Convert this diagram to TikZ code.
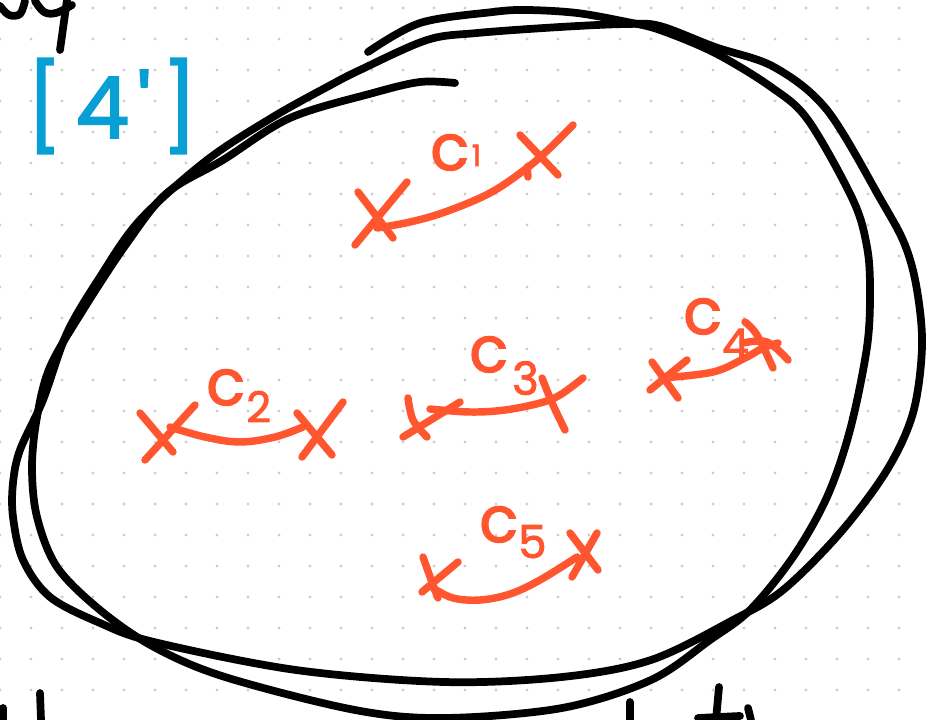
\documentclass[tikz,border=0pt]{standalone}
\usepackage{fontspec}
\newfontfamily\handfont[FakeBold=2]{Poppins}
\definecolor{orng}{RGB}{255,86,48}
\definecolor{blu}{RGB}{8,160,212}
\definecolor{dotc}{RGB}{205,205,205}
\tikzset{
  inkline/.style={line width=5.8pt, line cap=round, line join=round, black},
  orline/.style={line width=5.6pt, line cap=round, line join=round, orng},
  lab/.style={text=orng, inner sep=0pt, font=\handfont\fontsize{48}{48}\selectfont},
  bluelab/.style={text=blu, inner sep=0pt, font=\handfont\fontsize{64}{64}\selectfont},
}
\begin{document}
\begin{tikzpicture}[x=0.75pt,y=-0.75pt]
\useasboundingbox (0,0) rectangle (927,720);
\fill[white] (0,0) rectangle (927,720);
% dot grid
\foreach \i in {0,...,29}{
  \foreach \j in {0,...,22}{
    \fill[dotc] (31*\i,8+31*\j) circle (1.2pt);
  }
}
% partial handwriting at the edges
\draw[inkline] plot[smooth, tension=0.6] coordinates {(0,6) (9,15) (20,14) (25,1)};
\draw[inkline] plot[smooth, tension=0.6] coordinates {(35,1) (44,12) (56,13) (72,5)};
\draw[inkline] (67,0) -- (60,50);
\draw[inkline] (3,708) -- (3,720);
\draw[inkline] (40,693) -- (41,720);
\draw[inkline] (630,702) -- (630,720);
\draw[inkline] (719,687) -- (716,720);
\draw[inkline] (698,718) -- (740,716);
\draw[inkline] (748,708) -- (751,720);
% loop B (closed)
\draw[inkline] plot[smooth cycle, tension=0.55] coordinates {
 (360,70) (427,40) (477,33) (560,27) (627,24) (660,26) (715,47) (774,67)
 (827,110) (881,200) (905,245) (917,290) (922,347) (913,413) (887,470)
 (840,533) (783,590) (733,620) (651,660) (562,677) (444,682) (296,670)
 (154,642) (100,623) (50,597) (23,560) (13,517) (13,483) (20,450) (43,400)
 (67,333) (100,277) (140,220) (207,160) (273,117) (327,87)};
% loop A (open)
\draw[inkline] plot[smooth, tension=0.55] coordinates {
 (368,52) (420,23) (493,12) (527,10) (577,13) (627,22) (660,30) (715,53)
 (771,87) (808,120) (853,200) (867,247) (870,290) (867,347) (850,430)
 (827,497) (793,557) (750,610) (710,640) (651,680) (562,708) (444,718)
 (355,710) (225,677) (154,647) (100,610) (57,567) (37,517) (32,467)
 (37,417) (50,367) (83,310) (127,243) (167,193) (223,160) (290,118)
 (373,93) (420,82) (455,83)};
% c1
\draw[orline] (358,192) -- (393,238);
\draw[orline] (407,182) -- (355,245);
\draw[orline] plot[smooth, tension=0.6] coordinates {(377,228) (410,222) (445,212) (490,193) (527,168) (550,148) (573,125)};
\draw[orline] (520,135) -- (558,175);
\draw[orline] (527,167) -- (528,177);
% c2
\draw[orline] (140,413) -- (173,452);
\draw[orline] (195,405) -- (145,460);
\draw[orline] plot[smooth, tension=0.6] coordinates {(170,427) (205,437) (240,442) (275,437) (303,427)};
\draw[orline] (297,413) -- (332,455);
\draw[orline] (343,402) -- (302,457);
% c3
\draw[orline] plot[smooth, tension=0.6] coordinates {(408,398) (413,420) (427,437)};
\draw[orline] (460,402) -- (403,437);
\draw[orline] plot[smooth, tension=0.6] coordinates {(430,409) (470,412) (505,410) (540,403) (560,395) (583,378)};
\draw[orline] plot[smooth, tension=0.6] coordinates {(542,378) (553,405) (565,430)};
% c4
\draw[orline] (652,362) -- (678,398);
\draw[orline] (687,360) -- (650,390);
\draw[orline] plot[smooth, tension=0.6] coordinates {(662,378) (713,372) (745,358) (763,348) (778,343)};
\draw[orline] plot[smooth, tension=0.6] coordinates {(745,322) (757,335) (773,368)};
\draw[orline] plot[smooth, tension=0.6] coordinates {(743,343) (767,342) (788,360)};
% c5
\draw[orline] plot[smooth, tension=0.6] coordinates {(423,557) (433,585) (438,598)};
\draw[orline] (458,562) -- (422,592);
\draw[orline] plot[smooth, tension=0.6] coordinates {(433,588) (453,598) (480,600) (510,594) (540,580) (577,557)};
\draw[orline] (570,533) -- (598,570);
\draw[orline] (597,533) -- (572,577);
% labels
\node[lab, anchor=base west] (l1) at (430,170) {c\kern2pt\raisebox{3pt}{\fontsize{22}{22}\selectfont 1}};
\node[lab, anchor=base west] (l2) at (206,405) {c\kern1pt\raisebox{-13pt}{\fontsize{32}{32}\selectfont 2}};
\node[lab, anchor=base west] (l3) at (469,372) {c\kern3pt\raisebox{-17pt}{\fontsize{34}{34}\selectfont 3}};
\node[lab, anchor=base west] (l4) at (683,334) {c\kern0pt\raisebox{-19pt}{\fontsize{32}{32}\selectfont 4}};
\node[lab, anchor=base west] (l5) at (479,542) {c\kern0pt\raisebox{-12pt}{\fontsize{34}{34}\selectfont 5}};
\node[bluelab, anchor=base west] (tag) at (26,138) {[\kern10pt 4\kern6pt'\kern8pt]};
\end{tikzpicture}
\end{document}
